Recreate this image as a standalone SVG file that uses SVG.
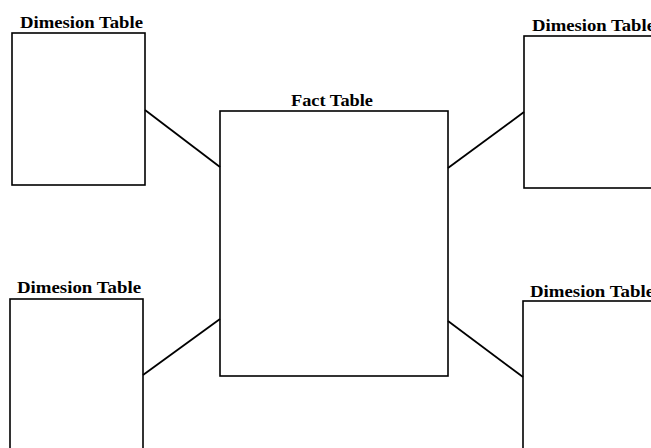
<svg xmlns="http://www.w3.org/2000/svg" width="651" height="448" viewBox="0 0 651 448">
<style>
.box{fill:none;stroke:#000;stroke-width:1.6}
.lbl{font-family:"Liberation Serif","Times New Roman",serif;font-weight:bold;font-size:17px;fill:#000}
.conn line{stroke:#000;stroke-width:1.8}
</style>
<rect width="651" height="448" fill="#fff"/>
<g id="dim-top-left">
<rect class="box" x="12" y="33" width="133" height="152"/>
<text class="lbl" x="20" y="28" textLength="123" lengthAdjust="spacingAndGlyphs">Dimesion Table</text>
</g>
<g id="dim-top-right">
<rect class="box" x="524" y="36" width="140" height="152"/>
<text class="lbl" x="532" y="31" textLength="123" lengthAdjust="spacingAndGlyphs">Dimesion Table</text>
</g>
<g id="fact">
<rect class="box" x="220" y="111" width="228" height="265"/>
<text class="lbl" x="291" y="106" textLength="82" lengthAdjust="spacingAndGlyphs">Fact Table</text>
</g>
<g id="dim-bottom-left">
<rect class="box" x="10" y="299" width="133" height="160"/>
<text class="lbl" x="17" y="293" textLength="124" lengthAdjust="spacingAndGlyphs">Dimesion Table</text>
</g>
<g id="dim-bottom-right">
<rect class="box" x="523" y="301" width="140" height="160"/>
<text class="lbl" x="530" y="297" textLength="124" lengthAdjust="spacingAndGlyphs">Dimesion Table</text>
</g>
<g id="connectors" class="conn">
<line x1="145" y1="110" x2="220" y2="167"/>
<line x1="448" y1="168" x2="524" y2="112"/>
<line x1="143" y1="375" x2="220" y2="319"/>
<line x1="448" y1="321" x2="523" y2="377"/>
</g>
</svg>
